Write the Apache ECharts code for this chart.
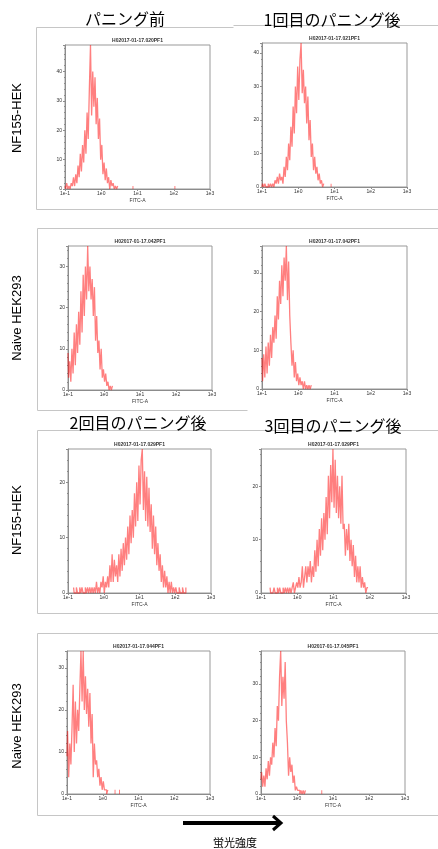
<!DOCTYPE html>
<html>
<head>
<meta charset="utf-8">
<script src="https://cdn.jsdelivr.net/npm/echarts@6.0.0/dist/echarts.min.js"></script>
<style>
    html, body { margin: 0; padding: 0; background: #fff; }
    #container { width: 438px; height: 849px; }
</style>
</head>
<body>
<div id="container"></div>
<script>
    // 横轴: 对数刻度, 每十倍 32 个通道 (0 = 1e-1, 128 = 1e3)
    let tickLabels = ['1e-1', '1e0', '1e1', '1e2', '1e3'];
    let columnTitles = ['パニング前', '1回目のパニング後', '2回目のパニング後', '3回目のパニング後'];
    let rowLabels = ['NF155-HEK', 'Naive HEK293', 'NF155-HEK', 'Naive HEK293'];
    let fileNames = ['H02017-01-17.020PF1', 'H02017-01-17.021PF1', 'H02017-01-17.042PF1', 'H02017-01-17.042PF1',
        'H02017-01-17.029PF1', 'H02017-01-17.029PF1', 'H02017-01-17.044PF1', 'H02017-01-17.045PF1'];
    let yMax = [49, 43, 35, 37, 26, 27, 34, 39];
    let startChannel = [0, 0, 0, 0, 5, 8, 0, 0];

    let counts1 = [1, 0, 2, 0, 1, 0, 2, 1, 4, 1, 5, 2, 8, 4, 12, 6, 15, 9, 20, 12, 26, 17, 34, 49, 25, 40, 28, 38, 22, 31,
        17, 24, 10, 15, 5, 9, 3, 7, 2, 4, 0, 3, 1, 2, 0, 1, 0, 1];
    let counts2 = [0, 1, 0, 1, 0, 0, 1, 0, 1, 0, 1, 0, 2, 1, 3, 1, 4, 2, 3, 1, 6, 3, 9, 5, 13, 8, 18, 12, 24, 16,
        30, 22, 36, 26, 38, 43, 28, 35, 25, 30, 19, 27, 14, 20, 9, 13, 5, 9, 4, 6, 2, 4, 1, 2, 0, 1];
    let counts3 = [9, 3, 7, 2, 10, 4, 14, 6, 16, 9, 19, 11, 24, 14, 28, 18, 30, 22, 35, 24, 30, 22, 27, 18, 25, 12, 18, 9, 12, 5,
        10, 3, 5, 2, 4, 1, 2, 0, 1, 0, 1];
    let counts4 = [8, 2, 9, 3, 11, 4, 12, 6, 14, 8, 16, 12, 19, 13, 24, 18, 28, 22, 32, 24, 34, 28, 37, 23, 33, 19, 12, 6, 10, 3,
        7, 2, 4, 1, 3, 1, 2, 0, 2, 0, 1, 0, 1, 0, 1];
    let counts5 = [1, 0, 0, 1, 0, 0, 1, 0, 1, 0, 0, 1, 0, 1, 0, 1, 0, 1, 0, 1, 0, 2, 0, 1, 0, 2, 1, 3, 0, 2,
        1, 3, 1, 5, 2, 7, 2, 6, 3, 5, 2, 7, 3, 8, 4, 9, 5, 10, 6, 12, 7, 14, 9, 15, 10, 18, 12, 20, 13, 23,
        16, 24, 26, 15, 22, 13, 21, 12, 19, 11, 16, 8, 14, 7, 12, 5, 9, 4, 7, 2, 5, 1, 4, 1, 3, 0, 2, 0, 2, 0,
        1, 0, 1, 0, 0, 1, 0, 0, 1, 0, 0, 1];
    let counts6 = [1, 0, 0, 0, 1, 0, 0, 1, 0, 1, 0, 0, 1, 0, 1, 0, 1, 0, 1, 0, 1, 2, 0, 1, 2, 1, 3, 1, 2, 5,
        1, 3, 5, 2, 5, 3, 6, 2, 5, 3, 8, 4, 10, 5, 12, 7, 14, 8, 15, 10, 18, 11, 22, 14, 24, 17, 27, 16, 25, 15,
        22, 14, 20, 13, 22, 12, 13, 7, 12, 8, 13, 6, 10, 5, 9, 3, 7, 2, 5, 2, 5, 1, 3, 1, 2, 0, 1, 1];
    let counts7 = [9, 15, 4, 12, 7, 16, 26, 10, 22, 12, 20, 15, 25, 34, 22, 34, 20, 28, 19, 25, 16, 24, 12, 19, 4, 12, 7, 8, 4, 6,
        2, 4, 1, 3, 1, 1, 0, 1];
    let counts8 = [4, 6, 2, 5, 2, 7, 4, 9, 5, 10, 8, 14, 10, 18, 13, 24, 20, 32, 39, 24, 32, 26, 36, 20, 14, 5, 10, 6, 8, 3,
        5, 1, 2, 1, 1, 0, 1, 0, 1, 0, 1];
    let countsList = [counts1, counts2, counts3, counts4, counts5, counts6, counts7, counts8];
    // 孤立的单个事件 (通道号)
    let outliers = [[60, 97], [61], [], [], [], [], [43, 47], [54]];

    // 每个直方图的绘图区
    let grids = [
        {left: 65, top: 45, width: 145, height: 144},
        {left: 262, top: 43, width: 145, height: 144},
        {left: 68, top: 246, width: 144, height: 144},
        {left: 262, top: 246, width: 145, height: 143},
        {left: 68, top: 449, width: 143, height: 144},
        {left: 261, top: 449, width: 145, height: 144},
        {left: 67, top: 651, width: 143, height: 143},
        {left: 261, top: 651, width: 144, height: 143}
    ];

    let histColor = 'rgba(255, 0, 0, 0.5)';
    let axisColor = '#8c8c8c';
    let tinyText = {fontSize: 5, color: '#333', fontFamily: 'Liberation Sans'};
    let frameColor = '#c6c6c6';

    function getCharts() {
        let myChart = echarts.init(document.getElementById('container'));
        let gridOpts = [], xAxes = [], yAxes = [], series = [], graphics = [];

        grids.forEach(function (g, i) {
            gridOpts.push({
                left: g.left, top: g.top, width: g.width, height: g.height,
                show: true, borderColor: '#999', borderWidth: 1, backgroundColor: '#fff'
            });
            xAxes.push({
                gridIndex: i, type: 'value', min: 0, max: 128, interval: 32,
                axisLine: {show: true, lineStyle: {color: axisColor, width: 1}},
                axisTick: {show: true, length: 2, lineStyle: {color: axisColor}},
                minorTick: {show: true, splitNumber: 4, length: 1, lineStyle: {color: axisColor}},
                splitLine: {show: false},
                axisLabel: Object.assign({margin: 2, showMaxLabel: true, formatter: function (v) {
                    return tickLabels[Math.round(v / 32)];
                }}, tinyText),
                name: 'FITC-A', nameLocation: 'middle', nameGap: 9,
                nameTextStyle: tinyText
            });
            yAxes.push({
                gridIndex: i, type: 'value', min: 0, max: yMax[i], interval: 10,
                axisLine: {show: true, lineStyle: {color: axisColor, width: 1}},
                axisTick: {show: true, length: 2, lineStyle: {color: axisColor}},
                minorTick: {show: true, splitNumber: 5, length: 1, lineStyle: {color: axisColor}},
                splitLine: {show: false},
                axisLabel: Object.assign({margin: 3, showMaxLabel: false}, tinyText)
            });
            let data = countsList[i].map(function (v, k) {
                return [startChannel[i] + k, v];
            });
            series.push({
                type: 'line', xAxisIndex: i, yAxisIndex: i, step: 'middle',
                symbol: 'none', silent: true, animation: false,
                lineStyle: {color: histColor, width: 1.3},
                data: data
            });
            series.push({
                type: 'bar', xAxisIndex: i, yAxisIndex: i, barWidth: 1,
                silent: true, animation: false,
                itemStyle: {color: histColor},
                data: outliers[i].map(function (c) { return [c, 1]; })
            });
            // 文件名小标题
            graphics.push({
                type: 'text', x: g.left + g.width / 2, y: g.top - 4,
                style: {text: fileNames[i], fontSize: 5, fontWeight: 'bold', fill: '#333',
                    fontFamily: 'Liberation Sans', align: 'center', verticalAlign: 'middle'}
            });
        });

        // 幻灯片上的截图边框
        let frameLines = [
            [36, 27, 233, 27], [233, 25, 438, 25], [36, 209, 438, 209], [36, 27, 36, 209],
            [37, 228, 438, 228], [37, 410, 247, 410], [37, 228, 37, 410],
            [37, 430, 438, 430], [37, 613, 438, 613], [37, 430, 37, 613],
            [37, 633, 438, 633], [37, 815, 438, 815], [37, 633, 37, 815]
        ];
        frameLines.forEach(function (l) {
            graphics.push({
                type: 'line', z: -10, silent: true,
                shape: {x1: l[0] + 0.5, y1: l[1] + 0.5, x2: l[2] + 0.5, y2: l[3] + 0.5},
                style: {stroke: frameColor, lineWidth: 1}
            });
        });

        let titlePos = [[125, 19], [332, 20], [138, 423], [333, 426]];
        columnTitles.forEach(function (t, i) {
            graphics.push({
                type: 'text', x: titlePos[i][0], y: titlePos[i][1],
                style: {text: t, fontSize: 16, fill: '#000', fontFamily: 'Noto Sans CJK JP',
                    align: 'center', verticalAlign: 'middle'}
            });
        });

        let rowY = [118, 318, 520, 726];
        rowLabels.forEach(function (t, i) {
            graphics.push({
                type: 'text', x: 17, y: rowY[i], rotation: Math.PI / 2,
                style: {text: t, fontSize: 13, fill: '#000', fontFamily: 'Liberation Sans',
                    align: 'center', verticalAlign: 'middle'}
            });
        });

        // 蛍光強度 箭头
        graphics.push({
            type: 'line', shape: {x1: 183, y1: 823, x2: 279, y2: 823},
            style: {stroke: '#000', lineWidth: 4}
        });
        graphics.push({
            type: 'polyline', shape: {points: [[273, 816], [281, 823], [273, 830]]},
            style: {stroke: '#000', lineWidth: 3, fill: null}
        });
        graphics.push({
            type: 'text', x: 235, y: 843,
            style: {text: '蛍光強度', fontSize: 11, fill: '#000', fontFamily: 'Noto Sans CJK JP',
                align: 'center', verticalAlign: 'middle'}
        });

        let option = {
            animation: false,
            backgroundColor: '#fff',
            grid: gridOpts,
            xAxis: xAxes,
            yAxis: yAxes,
            series: series,
            graphic: graphics
        };
        myChart.setOption(option, true);
    }

    getCharts();
</script>
</body>
</html>
